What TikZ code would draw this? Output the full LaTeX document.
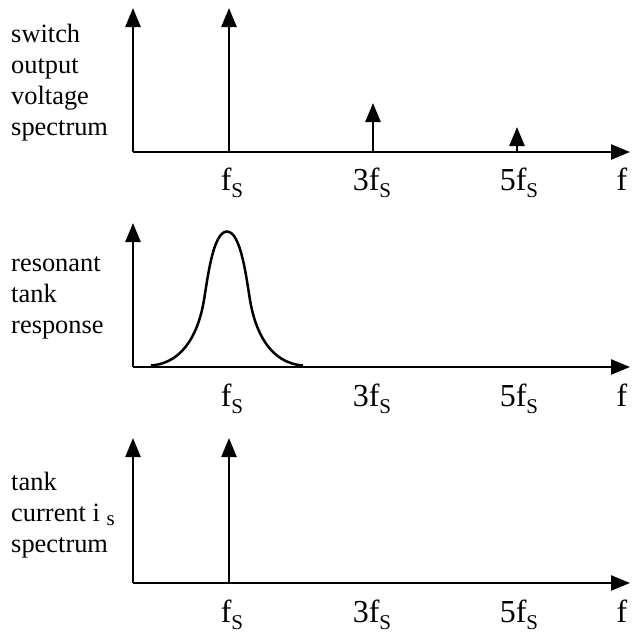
\documentclass[tikz,border=0pt]{standalone}
\usepackage{fontspec}
\setmainfont{Liberation Serif}
\usetikzlibrary{arrows.meta}

\newcommand{\fsub}[1]{#1f\raisebox{-7pt}{\fontsize{21}{21}\selectfont S}}

\begin{document}
\begin{tikzpicture}[x=1pt,y=-1pt,line width=2.5pt,
  spike/.style={-{Triangle[length=19pt,width=15pt]}},
  ticklabel/.style={anchor=base,inner sep=0pt,font=\fontsize{32}{32}\selectfont},
  sidetext/.style={anchor=base west,inner sep=0pt,align=left,
    font=\fontsize{26.4}{31}\selectfont}]
  \useasboundingbox (0,0) rectangle (632,633);

  % switch output voltage spectrum
  \coordinate (o1) at (133,152);
  \coordinate (y1) at (133,8);
  \coordinate (x1) at (630,152);
  \coordinate (s1) at (229,152);
  \coordinate (s1top) at (229,8);
  \coordinate (s3) at (373,152);
  \coordinate (s3top) at (373,103);
  \coordinate (s5) at (517,152);
  \coordinate (s5top) at (517,127);
  \draw[spike] (o1) -- (y1);
  \draw[spike] (o1) -- (x1);
  \draw[spike] (s1) -- (s1top);
  \draw[spike] (s3) -- (s3top);
  \draw[spike] (s5) -- (s5top);
  \node[sidetext] (vsw) at (10,135) {switch\\output\\voltage\\spectrum};
  \node[ticklabel] (fs1) at (232,190) {\fsub{}};
  \node[ticklabel] (tfs1) at (372,190) {\fsub{3}};
  \node[ticklabel] (ffs1) at (519,190) {\fsub{5}};
  \node[ticklabel] (f1) at (622,190) {f};

  % resonant tank response
  \coordinate (o2) at (133,367);
  \coordinate (y2) at (133,223);
  \coordinate (x2) at (630,367);
  \coordinate (peak) at (227,231.5);
  \draw[spike] (o2) -- (y2);
  \draw[spike] (o2) -- (x2);
  \draw (151,365.5) .. controls (185,363) and (199,330) .. (204,300)
    .. controls (207.5,279) and (213,231.5) .. (peak)
    .. controls (241,231.5) and (246.5,279) .. (250,300)
    .. controls (255,330) and (269,363) .. (303,365.5);
  \node[sidetext] (tank) at (10,333) {resonant\\tank\\response};
  \node[ticklabel] (fs2) at (232,406) {\fsub{}};
  \node[ticklabel] (tfs2) at (372,406) {\fsub{3}};
  \node[ticklabel] (ffs2) at (519,406) {\fsub{5}};
  \node[ticklabel] (f2) at (622,406) {f};

  % tank current spectrum
  \coordinate (o3) at (133,583);
  \coordinate (y3) at (133,438);
  \coordinate (x3) at (630,583);
  \coordinate (c1) at (229,583);
  \coordinate (c1top) at (229,438);
  \draw[spike] (o3) -- (y3);
  \draw[spike] (o3) -- (x3);
  \draw[spike] (c1) -- (c1top);
  \node[sidetext] (is) at (10,552)
    {tank\\current i \raisebox{-4pt}{\fontsize{21}{21}\selectfont s}\\spectrum};
  \node[ticklabel] (fs3) at (232,622) {\fsub{}};
  \node[ticklabel] (tfs3) at (372,622) {\fsub{3}};
  \node[ticklabel] (ffs3) at (519,622) {\fsub{5}};
  \node[ticklabel] (f3) at (622,622) {f};
\end{tikzpicture}
\end{document}
